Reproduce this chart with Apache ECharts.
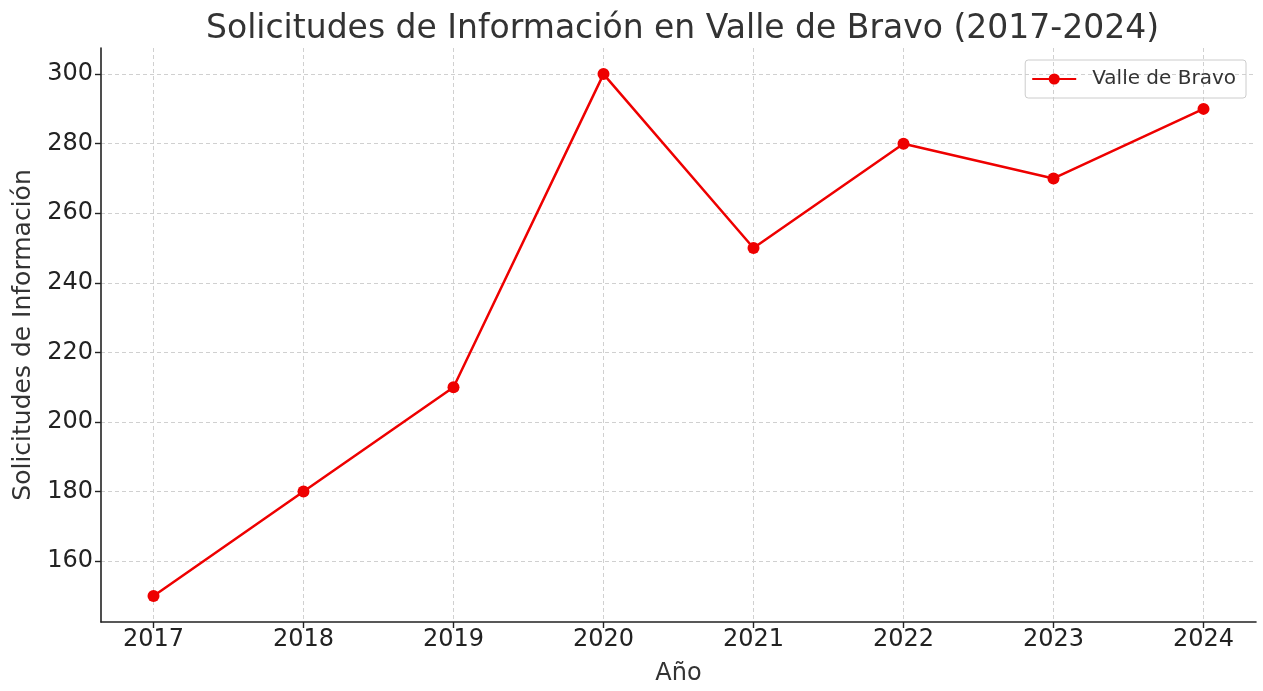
<!DOCTYPE html>
<html><head><meta charset="utf-8">
<script src="https://cdn.jsdelivr.net/npm/echarts@6/dist/echarts.min.js"></script>
<style>html,body{margin:0;padding:0;background:#fff}#c{width:1263px;height:691px}</style>
</head><body><div id="c"></div>
<script>
const years = [2017, 2018, 2019, 2020, 2021, 2022, 2023, 2024];
const solicitudes = [150, 180, 210, 300, 250, 280, 270, 290];
const yTicks = [160, 180, 200, 220, 240, 260, 280, 300];
const seriesName = 'Valle de Bravo';
const titleText = 'Solicitudes de Información en Valle de Bravo (2017-2024)';

const font = 'DejaVu Sans';
const chart = echarts.init(document.getElementById('c'));
chart.setOption({
  animation: false,
  title: { text: titleText, left: 201, top: 8,
    textStyle: { fontFamily: font, fontSize: 33, fontWeight: 'normal', color: '#333' } },
  legend: { right: 17, top: 60, orient: 'vertical', padding: [9, 10, 9, 6],
    borderColor: '#ccc', borderWidth: 1, borderRadius: 3,
    itemWidth: 44, itemHeight: 14, itemGap: 10,
    formatter: n => '{a|' + n + '}',
    textStyle: { fontFamily: font, fontSize: 20, color: '#333',
      rich: { a: { fontFamily: font, fontSize: 20, color: '#333', padding: [0, 0, 0, 11] } } },
    data: [seriesName] },
  grid: { left: 101, right: 7, top: 48, bottom: 68 },
  xAxis: {
    type: 'value', min: 2016.65, max: 2024.35,
    name: 'Año', nameLocation: 'middle', nameGap: 40,
    nameTextStyle: { fontFamily: font, fontSize: 24, color: '#333' },
    axisLine: { show: true, lineStyle: { color: '#222', width: 1.6 } },
    axisTick: { show: true, length: 6, customValues: years, lineStyle: { color: '#222', width: 1.4 } },
    axisLabel: { customValues: years, fontFamily: font, fontSize: 24, color: '#222', margin: 6,
      formatter: v => String(v) },
    splitLine: { show: true, lineStyle: { color: '#d0d0d0', type: [4, 3], width: 1 } }
  },
  yAxis: {
    type: 'value', min: 142.5, max: 307.5,
    name: 'Solicitudes de Información', nameLocation: 'middle', nameGap: 60,
    nameTextStyle: { fontFamily: font, fontSize: 25, color: '#333' },
    axisLine: { show: true, lineStyle: { color: '#222', width: 1.6 } },
    axisTick: { show: true, length: 6, customValues: yTicks, lineStyle: { color: '#222', width: 1.4 } },
    axisLabel: { customValues: yTicks, fontFamily: font, fontSize: 24, color: '#222', margin: 8 },
    splitLine: { show: true, lineStyle: { color: '#d0d0d0', type: [4, 3], width: 1 } }
  },
  series: [{
    name: seriesName, type: 'line',
    data: years.map((y, i) => [y, solicitudes[i]]),
    symbol: 'circle', symbolSize: 12,
    itemStyle: { color: '#ee0000' },
    lineStyle: { color: '#ee0000', width: 2.5 }
  }]
});
</script></body></html>
